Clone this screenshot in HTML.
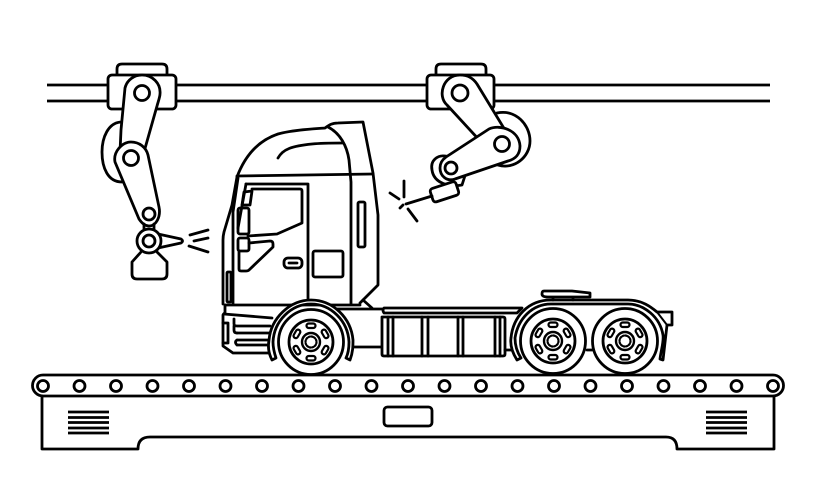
<!DOCTYPE html>
<html><head><meta charset="utf-8"><style>html,body{margin:0;padding:0;background:#fff}svg{display:block}</style></head>
<body>
<svg width="816" height="500" viewBox="0 0 816 500" xmlns="http://www.w3.org/2000/svg">
<defs>
<g id="slots" fill="none" stroke="#000" stroke-width="2.2">
<rect x="-4.5" y="-18.5" width="9" height="4.5" rx="2.2"/>
<rect x="-4.5" y="-18.5" width="9" height="4.5" rx="2.2" transform="rotate(60)"/>
<rect x="-4.5" y="-18.5" width="9" height="4.5" rx="2.2" transform="rotate(120)"/>
<rect x="-4.5" y="-18.5" width="9" height="4.5" rx="2.2" transform="rotate(180)"/>
<rect x="-4.5" y="-18.5" width="9" height="4.5" rx="2.2" transform="rotate(240)"/>
<rect x="-4.5" y="-18.5" width="9" height="4.5" rx="2.2" transform="rotate(300)"/>
</g>
<g id="wheel">
<circle r="32.5" fill="#fff" stroke="#000" stroke-width="2.8"/>
<circle r="22" fill="none" stroke="#000" stroke-width="2.8"/>
<circle r="9" fill="none" stroke="#000" stroke-width="2.4"/>
<circle r="5.5" fill="none" stroke="#000" stroke-width="2.2" stroke-dasharray="1.5 1.4"/>
<use href="#slots"/>
</g>
</defs>
<g fill="none" stroke="#000" stroke-width="2.8" stroke-linejoin="round" stroke-linecap="round">
<!-- rail -->
<path d="M47 85H108M47 101H108M176 85H427M176 101H427M494 85H770M494 101H770" stroke-linecap="butt"/>

<!-- left robot -->
<path d="M117 75V69Q117 64 122 64H162Q167 64 167 69V75"/>
<rect x="108" y="75" width="68" height="34" rx="4" fill="#fff"/>
<path d="M122 122C108 122 102 138 102 152C102 168 108 182 122 182" fill="#fff"/>
<path d="M125 88C127 80 134 75 142 75C152 75 161 83 160 94C160 97 158 102 157 106L144 152L120 152L121 130Z" fill="#fff"/>
<path d="M115 162C113 152 122 142 131 142C139 142 146 147 148 155L159 207C161 217 156 226 149 226C144 226 141 222 139 219Z" fill="#fff"/>
<circle cx="142" cy="93" r="7.5"/>
<circle cx="131" cy="158" r="7.5"/>
<circle cx="149" cy="214" r="6"/>
<path d="M144 224V231M154 224V231"/>
<path d="M158 234L181 239Q184 241 181 243L158 248" fill="#fff"/>
<path d="M141 252L132 262V274Q132 279 137 279H162Q167 279 167 274V262L157 252" fill="#fff"/>
<circle cx="149" cy="241" r="12" fill="#fff"/>
<circle cx="149" cy="241" r="6"/>
<path d="M190 235L208 230M194 241L208 238M189 246L208 252"/>

<!-- right robot -->
<path d="M436 75V69Q436 64 441 64H481Q486 64 486 69V75"/>
<rect x="427" y="75" width="67" height="34" rx="4" fill="#fff"/>
<path d="M497 113C516 109 530 125 530 141C530 157 514 170 498 165" fill="#fff"/>
<path d="M432 170C430 160 438 155 445 156L470 160L462 185C450 187 434 184 432 170Z" fill="#fff"/>
<path d="M447 105C437 96 443 75 460 75C468 75 473 78 477 84L505 130L482 143Z" fill="#fff"/>
<path d="M446 157L489 129C500 124 519 130 520 146C520 155 515 159 508 161L455 179C447 182 440 176 440 168C440 163 442 160 446 157Z" fill="#fff"/>
<circle cx="460" cy="93" r="8"/>
<circle cx="502" cy="144" r="7.5"/>
<circle cx="451" cy="168" r="6"/>
<rect x="431" y="185" width="27" height="14" rx="3" transform="rotate(-18 444 192)" fill="#fff"/>
<path d="M432 196L406 204M404 181V197M390 193L399 199M403 205L400 208M408 209L417 221"/>

<!-- cab -->
<path d="M237 177C246 153 260 140 278 134C292 130 312 129 325 128C329 125 332 123 338 123L363 122L373 173L378 215V285L360 303" fill="#fff"/>
<path d="M237 177L232 205L224 232Q223 236 223 240V304"/>
<path d="M237 176L373 174"/>
<path d="M328 127C340 133 347 146 349 160L351 182V304"/>
<path d="M278 158C283 149 292 146 312 144C322 143 333 143 343 143"/>
<path d="M238 178L233 212V304"/>
<path d="M246 184H308V304"/>
<path d="M246 184L238 228"/>
<path d="M252 189H300Q302 189 302 191V223L277 234L248 236"/>
<path d="M244 192L252 191L250 205L242 205Z"/>
<rect x="238" y="208" width="11" height="26" rx="2"/>
<rect x="238" y="238" width="11" height="13" rx="2" fill="#fff"/>
<path d="M249 243L270 241Q273 241 273 244V247L249 270Q248 271 246 271H241Q239 271 239 269V251"/>
<rect x="284" y="258" width="18" height="10" rx="4"/>
<path d="M289 263H297"/>
<rect x="313" y="251" width="30" height="26" rx="2"/>
<rect x="358" y="202" width="7" height="45" rx="1.5"/>
<rect x="227" y="272" width="4" height="30" rx="1"/>

<!-- frame / grille -->
<path d="M225 305H360M363 300L372 308M335 309H382"/>
<path d="M225 305V313Q224 313 223 315V346L233 353H270"/>
<path d="M224 314L272 318M234 319V324Q234 326 237 326H270M237 333Q234 333 234 330V326"/>
<path d="M237 333H270M237 340H270M237 345H270M237 340Q234 342 237 345"/>
<path d="M223 323H228V343H223"/>

<!-- fuel tank -->
<path d="M353 347H382"/>
<path d="M384 308H522L517 313H384Q382 310 384 308Z"/>
<path d="M382 317H503Q505 317 505 319V354Q505 356 503 356H384Q382 356 382 354Z" fill="#fff"/>
<path d="M388 317V356M393 317V356M422 317V356M428 317V356M458 317V356M463 317V356M495 317V356M500 317V356"/>
<path d="M505 350H513"/>

<!-- front wheel & fender -->
<path d="M272 360C268 352 268 346 269 340C271 318 290 300 311 300C333 300 351 318 353 340C353 346 353 352 350 360L346 358C349 352 349 346 349 342C348 321 331 304 311 304C291 304 274 321 273 342C273 347 274 352 276 358Z" fill="#fff"/>
<use href="#wheel" x="311" y="342"/>

<!-- rear fender -->
<path d="M587 350H592"/>
<path d="M517 360C512 352 510 345 511 338C513 317 528 300 551 300H628C642 300 651 307 657 312L672 312V325L667 325L663 360L660 359C661 350 664 342 663 335C660 317 644 304 628 304H551C532 304 518 319 515 338C515 345 517 352 521 358Z" fill="#fff"/>
<path d="M657 312L667 325" stroke-width="2"/>
<path d="M553 297V300M573 297V300"/>
<path d="M544 291H572L590 293V297H548Q542 297 542 294Q542 291 544 291Z" fill="#fff"/>
<use href="#wheel" x="553" y="341"/>
<use href="#wheel" x="625" y="341"/>

<!-- conveyor -->
<path d="M43 375H773A10.5 10.5 0 0 1 773 396H43A10.5 10.5 0 0 1 43 375Z" fill="#fff"/>
<path d="M42 396V449H138Q138 437 150 437H666Q677 437 677 449H774V396"/>
<rect x="384" y="407" width="48" height="19" rx="3.5"/>
<path d="M68 412H109M68 417.5H109M68 422.5H109M68 428H109M68 433H109M706 412H747M706 417.5H747M706 422.5H747M706 428H747M706 433H747" stroke-linecap="butt"/>
<g>
<circle cx="43" cy="386" r="5.5"/><circle cx="79.5" cy="386" r="5.5"/><circle cx="116" cy="386" r="5.5"/><circle cx="152.5" cy="386" r="5.5"/><circle cx="189" cy="386" r="5.5"/><circle cx="225.5" cy="386" r="5.5"/><circle cx="262" cy="386" r="5.5"/><circle cx="298.5" cy="386" r="5.5"/><circle cx="335" cy="386" r="5.5"/><circle cx="371.5" cy="386" r="5.5"/><circle cx="408" cy="386" r="5.5"/><circle cx="444.5" cy="386" r="5.5"/><circle cx="481" cy="386" r="5.5"/><circle cx="517.5" cy="386" r="5.5"/><circle cx="554" cy="386" r="5.5"/><circle cx="590.5" cy="386" r="5.5"/><circle cx="627" cy="386" r="5.5"/><circle cx="663.5" cy="386" r="5.5"/><circle cx="700" cy="386" r="5.5"/><circle cx="736.5" cy="386" r="5.5"/><circle cx="773" cy="386" r="5.5"/>
</g>
</g>
</svg>
</body></html>
